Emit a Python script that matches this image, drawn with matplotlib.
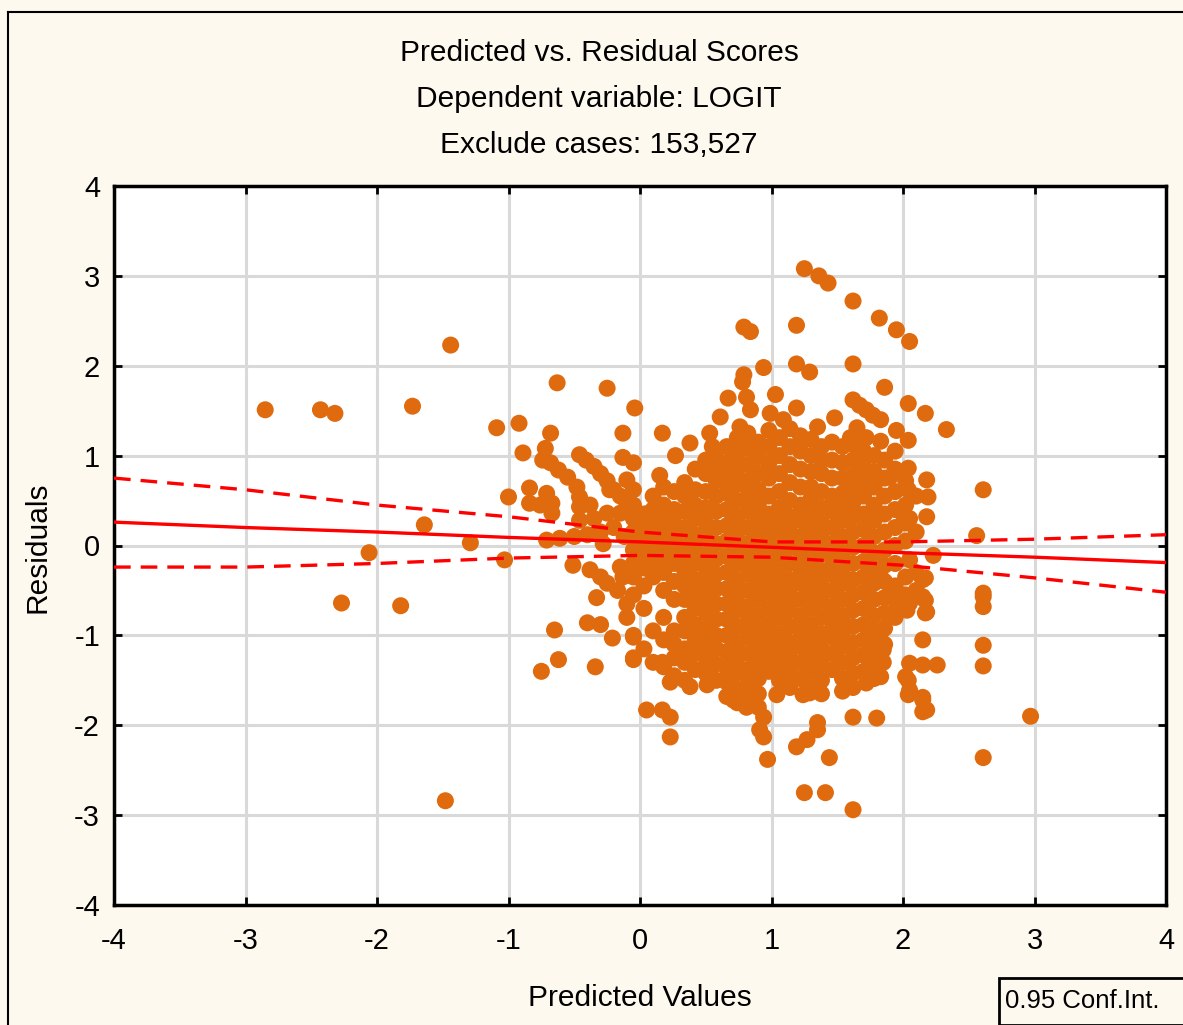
import matplotlib
matplotlib.use("Agg")
import matplotlib.pyplot as plt
from matplotlib.patches import Rectangle
from matplotlib.lines import Line2D

# ---------------- data ----------------
title_lines = ["Predicted vs. Residual Scores", "Dependent variable: LOGIT", "Exclude cases: 153,527"]
x_label = "Predicted Values"
y_label = "Residuals"
legend_label = "0.95 Conf.Int."
ticks = [-4, -3, -2, -1, 0, 1, 2, 3, 4]

# regression line and 95% band read at x = -4 .. 4
fit_x = [-4, -3, -2, -1, 0, 1, 2, 3, 4]
fit_y = [0.26, 0.20, 0.15, 0.09, 0.04, -0.02, -0.08, -0.13, -0.19]
ci_upper = [0.75, 0.62, 0.45, 0.32, 0.15, 0.04, 0.04, 0.07, 0.12]
ci_lower = [-0.24, -0.24, -0.20, -0.14, -0.11, -0.13, -0.22, -0.36, -0.52]

left_points = [
    (-2.85, 1.51), (-2.43, 1.51), (-2.32, 1.47), (-1.73, 1.55), (-1.44, 2.23), (-1.64, 0.23),
    (-2.06, -0.08), (-2.27, -0.64), (-1.82, -0.67), (-1.48, -2.84), (-1.29, 0.03), (-1.09, 1.31),
    (-0.92, 1.36), (-1.03, -0.16), (-1.00, 0.54), (-0.63, 1.81), (-0.25, 1.75), (-0.04, 1.53),
    (-0.68, 1.25), (-0.89, 1.03), (-0.72, 1.08), (-0.74, 0.95), (-0.68, 0.92), (-0.62, 0.84),
    (-0.55, 0.76), (-0.48, 0.65), (-0.46, 0.54), (-0.46, 0.43), (-0.46, 0.28), (-0.84, 0.64),
    (-0.84, 0.47), (-0.71, 0.58), (-0.67, 0.47), (-0.67, 0.36), (-0.76, 0.45), (-0.46, 1.01),
    (-0.41, 0.95), (-0.35, 0.88), (-0.30, 0.80), (-0.25, 0.72), (-0.20, 0.62), (-0.15, 0.55),
    (-0.13, 1.25), (-0.13, 0.98), (-0.05, 0.92), (-0.71, 0.06), (-0.61, 0.08), (-0.25, 0.36),
    (-0.15, 0.36), (-0.10, 0.47), (-0.05, 0.62), (-0.23, 0.62), (-0.10, 0.73), (-0.38, 0.45),
    (-0.35, 0.30), (-0.30, 0.15), (-0.20, 0.20), (-0.28, 0.02), (-0.12, 0.10), (-0.40, 0.12),
    (-0.50, 0.10), (-0.51, -0.22), (-0.38, -0.27), (-0.30, -0.35), (-0.25, -0.42), (-0.33, -0.58),
    (-0.15, -0.24), (-0.13, -0.35), (-0.17, -0.50), (-0.65, -0.94), (-0.40, -0.86), (-0.30, -0.88),
    (-0.21, -1.03), (-0.62, -1.27), (-0.75, -1.40), (-0.34, -1.35), (-0.05, -1.02), (-0.05, -1.27),
    (-0.02, -0.08), (-0.10, -0.65), (-0.10, -0.80),
]

upper_points = [
    (0.17, 1.25), (0.38, 1.14), (0.27, 1.00), (0.53, 1.25), (0.55, 1.10), (0.61, 1.43),
    (0.76, 1.32), (0.76, 1.17), (0.78, 1.82), (0.67, 1.64), (0.81, 1.65), (0.84, 1.51),
    (1.03, 1.68), (0.99, 1.47), (1.09, 1.40), (1.19, 1.53), (0.79, 2.43), (0.84, 2.38),
    (1.19, 2.45), (0.94, 1.98), (0.79, 1.90), (1.19, 2.02), (1.29, 1.93), (1.62, 2.02),
    (1.25, 3.08), (1.36, 3.00), (1.43, 2.92), (1.62, 2.72), (1.82, 2.53), (1.95, 2.40),
    (2.05, 2.27), (1.86, 1.76), (1.62, 1.62), (1.67, 1.56), (1.72, 1.51), (1.77, 1.45),
    (1.83, 1.40), (2.04, 1.58), (2.17, 1.47), (2.33, 1.29), (1.95, 1.28), (2.04, 1.17),
    (1.48, 1.42), (1.35, 1.32), (1.60, 1.20), (1.65, 1.31), (1.72, 1.20), (1.83, 1.16),
    (2.04, 0.86), (2.04, 0.62), (2.18, 0.73), (2.19, 0.54), (2.18, 0.32), (1.90, 0.76),
    (2.00, 0.35), (2.05, 0.30), (0.15, 0.78), (0.05, 0.35),
]

lower_points = [
    (0.05, -1.83), (0.17, -1.83), (0.23, -1.91), (0.23, -2.13), (1.04, -1.66), (1.24, -1.66),
    (0.94, -1.91), (0.91, -2.05), (0.94, -2.13), (0.97, -2.38), (1.19, -2.24), (1.27, -2.16),
    (1.35, -2.05), (1.35, -1.97), (1.44, -2.36), (1.25, -2.75), (1.41, -2.75), (1.62, -2.94),
    (1.62, -1.91), (1.80, -1.92), (0.23, -1.52), (0.38, -1.57), (0.51, -1.55), (0.66, -1.46),
    (0.71, -1.72), (0.81, -1.80), (0.17, -1.30), (1.29, -1.64),
]

right_points = [
    (2.15, -0.38), (2.15, -0.57), (2.18, -0.74), (2.05, -0.64), (1.95, -0.64), (1.92, -0.53),
    (1.83, -0.35), (2.15, -1.05), (2.05, -1.31), (2.02, -1.46), (2.05, -1.61), (2.15, -1.69),
    (2.18, -1.83), (2.26, -1.33), (2.15, -1.33), (2.05, -0.16), (2.23, -0.11), (2.17, -0.36),
    (2.03, -0.72), (2.17, -0.61), (2.17, -0.75), (2.04, -1.50), (2.04, -1.66), (2.15, -1.72),
    (2.15, -1.85), (1.83, -0.97), (1.85, -1.16), (1.83, -1.46), (1.72, -1.53), (1.85, -1.30),
    (2.97, -1.90), (2.61, 0.62), (2.61, -2.36), (2.56, 0.11), (2.61, -0.57), (2.61, -0.68),
    (2.61, -1.11), (2.61, -1.34), (2.61, -0.53),
]

# dense core: (predicted value, residuals at that value)
core_columns = [
    (-0.05, [0.45, 0.30, 0.15, -0.05, -0.20, -0.35, -0.55, -1.00, -1.25]),
    (0.03, [0.35, 0.20, 0.05, -0.10, -0.25, -0.45, -0.70, -1.15]),
    (0.10, [0.55, 0.40, 0.28, 0.12, -0.05, -0.20, -0.35, -0.95, -1.30]),
    (0.18, [0.65, 0.45, 0.30, 0.15, 0.00, -0.15, -0.30, -0.50, -0.80, -1.05, -1.35]),
    (0.26, [0.60, 0.40, 0.25, 0.10, -0.05, -0.20, -0.40, -0.60, -0.95, -1.10, -1.25, -1.45]),
    (0.34, [0.70, 0.55, 0.38, 0.20, 0.05, -0.12, -0.28, -0.45, -0.60, -0.80, -0.95, -1.15, -1.30, -1.50]),
    (0.42, [0.85, 0.62, 0.45, 0.30, 0.12, -0.05, -0.20, -0.38, -0.55, -0.70, -0.88, -1.05, -1.20, -1.38]),
    (0.50, [0.95, 0.80, 0.60, 0.42, 0.25, 0.08, -0.10, -0.25, -0.42, -0.58, -0.75, -0.92, -1.08, -1.25, -1.42]),
    (0.58, [1.05, 0.88, 0.72, 0.55, 0.38, 0.20, 0.02, -0.15, -0.32, -0.48, -0.65, -0.82, -1.00, -1.15, -1.32, -1.50]),
    (0.66, [1.10, 0.92, 0.75, 0.58, 0.40, 0.22, 0.05, -0.12, -0.30, -0.48, -0.65, -0.82, -1.00, -1.18, -1.35, -1.52, -1.68]),
    (0.74, [1.20, 1.02, 0.85, 0.68, 0.50, 0.32, 0.15, -0.02, -0.20, -0.38, -0.55, -0.72, -0.90, -1.08, -1.25, -1.42, -1.60, -1.75]),
    (0.82, [1.25, 1.08, 0.90, 0.72, 0.55, 0.38, 0.20, 0.02, -0.15, -0.32, -0.50, -0.68, -0.85, -1.02, -1.20, -1.38, -1.55, -1.72]),
    (0.90, [1.15, 0.98, 0.80, 0.62, 0.45, 0.28, 0.10, -0.08, -0.25, -0.42, -0.60, -0.78, -0.95, -1.12, -1.30, -1.48, -1.65, -1.80]),
    (0.98, [1.28, 1.10, 0.92, 0.75, 0.55, 0.35, 0.18, 0.00, -0.18, -0.35, -0.52, -0.70, -0.88, -1.05, -1.22, -1.40]),
    (1.06, [1.20, 1.00, 0.80, 0.60, 0.42, 0.25, 0.08, -0.10, -0.28, -0.45, -0.62, -0.80, -0.98, -1.15, -1.32, -1.50]),
    (1.14, [1.30, 1.10, 0.90, 0.70, 0.50, 0.32, 0.15, -0.02, -0.20, -0.38, -0.55, -0.72, -0.90, -1.08, -1.25, -1.42, -1.58]),
    (1.22, [1.22, 1.05, 0.85, 0.65, 0.45, 0.28, 0.10, -0.08, -0.25, -0.42, -0.60, -0.78, -0.95, -1.12, -1.30, -1.48]),
    (1.30, [1.18, 1.00, 0.82, 0.65, 0.52, 0.35, 0.18, 0.00, -0.18, -0.35, -0.52, -0.70, -0.88, -1.05, -1.22, -1.40, -1.58]),
    (1.38, [1.10, 0.95, 0.80, 0.60, 0.42, 0.25, 0.08, -0.10, -0.28, -0.45, -0.62, -0.80, -0.98, -1.15, -1.32, -1.50, -1.65]),
    (1.46, [1.15, 0.95, 0.75, 0.55, 0.38, 0.20, 0.02, -0.15, -0.32, -0.50, -0.68, -0.85, -1.02, -1.20, -1.38]),
    (1.54, [1.10, 0.92, 0.75, 0.58, 0.45, 0.28, 0.10, -0.08, -0.25, -0.42, -0.60, -0.78, -0.95, -1.12, -1.30, -1.48, -1.62]),
    (1.62, [1.12, 0.95, 0.78, 0.62, 0.48, 0.32, 0.15, -0.02, -0.20, -0.38, -0.55, -0.72, -0.90, -1.08, -1.25, -1.42, -1.58]),
    (1.70, [1.05, 0.88, 0.72, 0.55, 0.35, 0.18, 0.00, -0.18, -0.35, -0.52, -0.70, -0.88, -1.05, -1.22, -1.40]),
    (1.78, [1.00, 0.82, 0.65, 0.45, 0.28, 0.10, -0.08, -0.25, -0.42, -0.60, -0.78, -0.95, -1.12, -1.30, -1.48]),
    (1.86, [0.95, 0.75, 0.55, 0.35, 0.15, -0.05, -0.22, -0.40, -0.58, -0.75, -0.92, -1.10]),
    (1.94, [1.05, 0.85, 0.60, 0.40, 0.20, 0.00, -0.20, -0.45, -0.80]),
    (2.02, [0.72, 0.45, 0.25, 0.05, -0.35, -0.55]),
    (2.10, [0.55, 0.15, -0.30, -0.50]),
]

# ---------------- styling ----------------
BG = "#FEF9EF"
DOT = "#E06A0E"
FONT = ["Liberation Sans Narrow", "Liberation Sans", "DejaVu Sans"]
plt.rcParams["font.family"] = FONT

W, H = 1183, 1025
fig = plt.figure(figsize=(W / 100, H / 100), dpi=100, facecolor=BG)

# outer frame (top and left edges visible)
fig.add_artist(Line2D([8 / W, 1.0], [1 - 12 / H, 1 - 12 / H], transform=fig.transFigure, color="black", lw=1.5))
fig.add_artist(Line2D([8 / W, 8 / W], [0.0, 1 - 12 / H], transform=fig.transFigure, color="black", lw=1.5))

ax = fig.add_axes([114 / W, (H - 905) / H, (1166 - 114) / W, (905 - 186) / H])
ax.set_facecolor("white")
ax.set_xlim(-4, 4)
ax.set_ylim(-4, 4)
ax.set_xticks(ticks)
ax.set_yticks(ticks)
ax.set_xticklabels([str(t) for t in ticks])
ax.set_yticklabels([str(t) for t in ticks])
ax.grid(True, color="#D9D9D9", lw=2.2, zorder=0)
ax.set_axisbelow(True)
for s in ax.spines.values():
    s.set_linewidth(2.5)
    s.set_color("black")
ax.tick_params(axis="both", direction="in", length=6, width=2, labelsize=21,
               top=True, right=True, labeltop=False, labelright=False)
ax.tick_params(axis="x", pad=16)
ax.tick_params(axis="y", pad=10)

# scatter
px, py = [], []
for grp in (left_points, upper_points, lower_points, right_points):
    for xv, yv in grp:
        px.append(xv)
        py.append(yv)
for xv, ys in core_columns:
    for yv in ys:
        px.append(xv)
        py.append(yv)
ax.scatter(px, py, s=150, color=DOT, edgecolors="none", zorder=3)

# regression line and confidence band
ax.plot(fit_x, fit_y, color="#FF0000", lw=2.4, zorder=4)
ax.plot(fit_x, ci_upper, color="#FF0000", lw=2.4, ls=(0, (5, 3)), zorder=4)
ax.plot(fit_x, ci_lower, color="#FF0000", lw=2.4, ls=(0, (5, 3)), zorder=4)

# titles and labels
for i, t in enumerate(title_lines):
    fig.text(599 / W, 1 - (53 + 46 * i) / H, t, ha="center", va="center", fontsize=21.5)
fig.text(640 / W, 1 - 998 / H, x_label, ha="center", va="center", fontsize=21.5)
fig.text(38 / W, 1 - 547 / H, y_label, ha="center", va="center", rotation=90, fontsize=21.5)

# legend box at bottom right
fig.add_artist(Rectangle((999 / W, 0.0), 0.2, (1025 - 978) / H, transform=fig.transFigure,
                         facecolor=BG, edgecolor="black", lw=2, clip_on=False))
fig.text(1005 / W, 1 - 1001 / H, legend_label, ha="left", va="center", fontsize=18.5)

fig.savefig("out.png", dpi=100, facecolor=BG)
